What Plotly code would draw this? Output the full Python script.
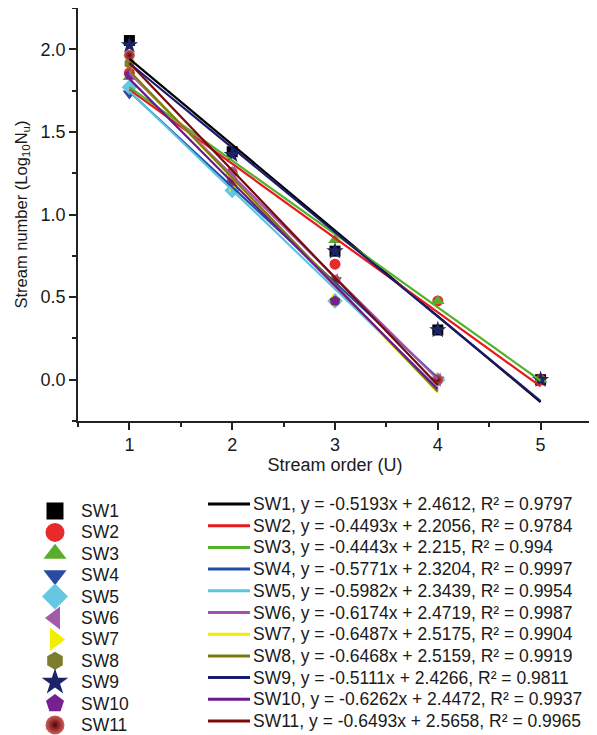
import plotly.graph_objects as go

# ---------------- data ----------------
names = ["SW1", "SW2", "SW3", "SW4", "SW5", "SW6", "SW7", "SW8", "SW9", "SW10", "SW11"]
orders = [
    [1, 2, 3, 4, 5],
    [1, 2, 3, 4, 5],
    [1, 2, 3, 4, 5],
    [1, 2, 3, 4],
    [1, 2, 3, 4],
    [1, 2, 3, 4],
    [1, 2, 3, 4],
    [1, 2, 3, 4],
    [1, 2, 3, 4, 5],
    [1, 2, 3, 4],
    [1, 2, 3, 4],
]
log_n = [
    [2.053, 1.380, 0.778, 0.301, 0.0],
    [1.857, 1.255, 0.699, 0.477, 0.0],
    [1.833, 1.255, 0.845, 0.477, 0.0],
    [1.732, 1.176, 0.602, 0.0],
    [1.771, 1.146, 0.477, 0.0],
    [1.845, 1.255, 0.602, 0.0],
    [1.929, 1.176, 0.477, 0.0],
    [1.914, 1.204, 0.477, 0.0],
    [2.025, 1.362, 0.778, 0.301, 0.0],
    [1.845, 1.204, 0.477, 0.0],
    [1.964, 1.204, 0.602, 0.0],
]
slopes = [-0.5193, -0.4493, -0.4443, -0.5771, -0.5982, -0.6174, -0.6487, -0.6468, -0.5111, -0.6262, -0.6493]
intercepts = [2.4612, 2.2056, 2.215, 2.3204, 2.3439, 2.4719, 2.5175, 2.5159, 2.4266, 2.4472, 2.5658]
r_squared = ["0.9797", "0.9784", "0.994", "0.9997", "0.9954", "0.9987", "0.9904", "0.9919", "0.9811", "0.9937", "0.9965"]

x_ticks = [1, 2, 3, 4, 5]
y_ticks = [0.0, 0.5, 1.0, 1.5, 2.0]

# ---------------- styles ----------------
symbols = ["square", "circle", "triangle-up", "triangle-down", "diamond", "triangle-left",
           "triangle-right", "hexagon", "star", "pentagon", "circle"]
marker_colors = ["#000000", "#e82a2a", "#5aab2e", "#2a4ba0", "#66c8e0", "#a35aa8",
                 "#f2ee00", "#7c7c2c", "#1a2466", "#782090", "#8a1010"]
line_colors = ["#000000", "#e8191e", "#52b22a", "#1f4fa8", "#5bc4e0", "#a050b0",
               "#f2ea00", "#7a7a10", "#1a1a6e", "#6a1a8e", "#7a0a0a"]
legend_sizes = [17, 19, 20, 20, 20, 20, 20, 18, 20, 19, 19]
plot_sizes = [11, 11, 12, 12, 12, 12, 12, 11, 13, 11, 11]

FONT = "Liberation Sans, Arial, sans-serif"
TXT = "#1a1a1a"
OFF = 8                      # default page margin of the html body
W, H = 597 - OFF, 735 - OFF
ML, MR, MT, MB = 0, 5, 0, 0
PW, PH = W - ML - MR, H - MT - MB


def fx(px):  # page pixel -> figure pixel (x)
    return px - OFF


def fy(py):  # page pixel -> figure pixel (y)
    return py - OFF


fig = go.Figure()


def marker_style(i, size):
    mk = dict(symbol=symbols[i], color=marker_colors[i], size=size, line=dict(width=0))
    if i == 10:
        mk["gradient"] = dict(type="radial", color="#5a0000")
        mk["color"] = "#d06060"
    return mk


# main plot: markers
for i, n in enumerate(names):
    fig.add_trace(go.Scatter(x=orders[i], y=log_n[i], mode="markers", marker=marker_style(i, plot_sizes[i]),
                             showlegend=False, xaxis="x", yaxis="y"))

# main plot: regression lines
for i, n in enumerate(names):
    xs = [orders[i][0], orders[i][-1]]
    ys = [slopes[i] * x + intercepts[i] for x in xs]
    fig.add_trace(go.Scatter(x=xs, y=ys, mode="lines", line=dict(color=line_colors[i], width=2.2),
                             showlegend=False, xaxis="x", yaxis="y"))

# legend panels (drawn on a hidden pixel-like axis pair)
LEFT_MK_X, LEFT_TX_X, LEFT_Y0, LEFT_DY = 55, 79, 511, 21.4
RIGHT_L0, RIGHT_L1, RIGHT_TX_X, RIGHT_Y0, RIGHT_DY = 208, 250, 251, 504, 21.7
LEG_TOP = 478
LEG_FONT = 17.5

annotations = []
for i, n in enumerate(names):
    yl = fy(LEFT_Y0 + LEFT_DY * i)
    fig.add_trace(go.Scatter(x=[fx(LEFT_MK_X)], y=[yl], mode="markers",
                             marker=marker_style(i, legend_sizes[i]),
                             showlegend=False, xaxis="x2", yaxis="y2"))
    annotations.append(dict(x=fx(LEFT_TX_X), y=yl, xref="x2", yref="y2", text=n, showarrow=False,
                            xanchor="left", yanchor="middle",
                            font=dict(size=LEG_FONT, color=TXT, family=FONT)))
    yr = fy(RIGHT_Y0 + RIGHT_DY * i)
    fig.add_trace(go.Scatter(x=[fx(RIGHT_L0), fx(RIGHT_L1)], y=[yr, yr], mode="lines",
                             line=dict(color=line_colors[i], width=3),
                             showlegend=False, xaxis="x2", yaxis="y2"))
    label = f"{n}, y = {slopes[i]}x + {intercepts[i]}, R² = {r_squared[i]}"
    annotations.append(dict(x=fx(RIGHT_TX_X), y=yr, xref="x2", yref="y2", text=label, showarrow=False,
                            xanchor="left", yanchor="middle",
                            font=dict(size=LEG_FONT, color=TXT, family=FONT)))

ax_left_px, ax_right_px, ax_top_px, ax_bot_px = fx(78), fx(592), fy(8), fy(421)

axis_common = dict(showline=True, linecolor="#222222", linewidth=1.5, ticks="outside",
                   ticklen=7, tickwidth=1.5, tickcolor="#222222", showgrid=False, zeroline=False,
                   tickfont=dict(size=18, color=TXT, family=FONT), mirror=False)

fig.update_layout(
    width=W, height=H,
    margin=dict(l=ML, r=MR, t=MT, b=MB, autoexpand=False),
    paper_bgcolor="white", plot_bgcolor="white",
    font=dict(family=FONT, color=TXT, size=17),
    xaxis=dict(domain=[(ax_left_px - ML) / PW, min(1.0, (ax_right_px - ML) / PW)], range=[0.5, 5.5],
               tickvals=x_ticks, anchor="y",
               minor=dict(ticks="outside", ticklen=4, tickwidth=1.5, tickcolor="#222222", dtick=0.5, tick0=0.5),
               title=dict(text="Stream order (U)", font=dict(size=18, color=TXT, family=FONT), standoff=4),
               **axis_common),
    yaxis=dict(domain=[(H - MB - ax_bot_px) / PH, (H - MB - ax_top_px) / PH], range=[-0.25, 2.25],
               tickvals=y_ticks, tickformat=".1f", anchor="x",
               minor=dict(ticks="outside", ticklen=4, tickwidth=1.5, tickcolor="#222222", dtick=0.25, tick0=0.25),
               title=dict(text="Stream number (Log<sub>10</sub>N<sub>u</sub>)",
                          font=dict(size=16.5, color=TXT, family=FONT), standoff=9),
               **axis_common),
    xaxis2=dict(domain=[0, 1], range=[ML, W - MR], visible=False, anchor="y2"),
    yaxis2=dict(domain=[0, (H - MB - fy(LEG_TOP)) / PH], range=[H - MB, fy(LEG_TOP)],
                visible=False, anchor="x2"),
    annotations=annotations,
    showlegend=False,
)

fig.write_html("out.html")
